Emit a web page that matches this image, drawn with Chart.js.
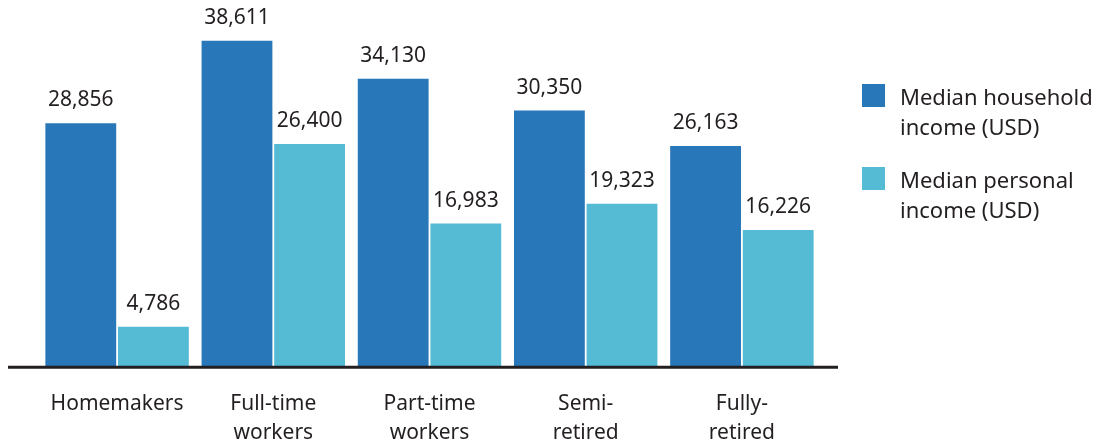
<!DOCTYPE html>
<html>
<head>
<meta charset="utf-8">
<script src="https://cdn.jsdelivr.net/npm/chart.js@4.4.1/dist/chart.umd.min.js"></script>
<style>
  html, body { margin: 0; padding: 0; background: #fff; overflow: hidden; }
  #wrap { position: relative; width: 1099px; height: 473px; }
  #chartBox { position: absolute; left: 0; top: 0; width: 1099px; height: 473px; }
  .legend { position: absolute; left: 862px; font-family: "Noto Sans", sans-serif; font-size: 22px; color: #231f20; line-height: 30px; }
  .legend .sw { position: absolute; left: 0; width: 23px; height: 23px; }
  .legend .tx { position: absolute; left: 38px; white-space: nowrap; }
</style>
</head>
<body>
<div id="wrap">
  <div id="chartBox"><canvas id="c"></canvas></div>
  <div id="legend"></div>
</div>
<script>
const categories = [["Homemakers"], ["Full-time", "workers"], ["Part-time", "workers"], ["Semi-", "retired"], ["Fully-", "retired"]];
const seriesNames = [["Median household", "income (USD)"], ["Median personal", "income (USD)"]];
const householdIncome = [28856, 38611, 34130, 30350, 26163];
const personalIncome = [4786, 26400, 16983, 19323, 16226];
const colors = ["#2777b9", "#55bad4"];
const textColor = "#231f20";
const fontFamily = "'Noto Sans', sans-serif";

// HTML legend
const legendTops = [84, 167];
const legendEl = document.getElementById('legend');
seriesNames.forEach((name, i) => {
  const d = document.createElement('div');
  d.className = 'legend';
  d.style.top = legendTops[i] + 'px';
  d.innerHTML = '<div class="sw" style="background:' + colors[i] + '"></div>' +
    '<div class="tx" style="top:-3px">' + name.join('<br>') + '</div>';
  legendEl.appendChild(d);
});

const valueLabels = {
  id: 'valueLabels',
  afterDatasetsDraw(chart) {
    const ctx = chart.ctx;
    ctx.save();
    ctx.font = "21px " + fontFamily;
    ctx.fillStyle = textColor;
    ctx.textAlign = 'center';
    ctx.textBaseline = 'middle';
    chart.data.datasets.forEach((ds, di) => {
      const meta = chart.getDatasetMeta(di);
      meta.data.forEach((bar, i) => {
        ctx.fillText(ds.data[i].toLocaleString('en-US'), bar.x, bar.y - 23);
      });
    });
    // baseline
    const y0 = chart.scales.y.getPixelForValue(0);
    ctx.strokeStyle = textColor;
    ctx.lineWidth = 3;
    ctx.beginPath();
    ctx.moveTo(8, y0);
    ctx.lineTo(838, y0);
    ctx.stroke();
    ctx.restore();
  }
};

new Chart(document.getElementById('c'), {
  type: 'bar',
  data: {
    labels: categories,
    datasets: [
      { label: seriesNames[0].join(' '), data: householdIncome, backgroundColor: colors[0] },
      { label: seriesNames[1].join(' '), data: personalIncome, backgroundColor: colors[1] }
    ]
  },
  options: {
    responsive: true,
    maintainAspectRatio: false,
    animation: false,
    layout: { padding: { left: 39, right: 279, top: 29, bottom: 3 } },
    plugins: { legend: { display: false }, tooltip: { enabled: false } },
    datasets: { bar: { categoryPercentage: 0.93, barPercentage: 0.975 } },
    scales: {
      x: {
        grid: { display: false, drawTicks: false },
        border: { display: false },
        ticks: { color: textColor, font: { family: fontFamily, size: 21, lineHeight: 1.4 }, padding: 22, maxRotation: 0, autoSkip: false }
      },
      y: {
        display: false,
        min: 0,
        max: 40000
      }
    }
  },
  plugins: [valueLabels]
});
</script>
</body>
</html>
